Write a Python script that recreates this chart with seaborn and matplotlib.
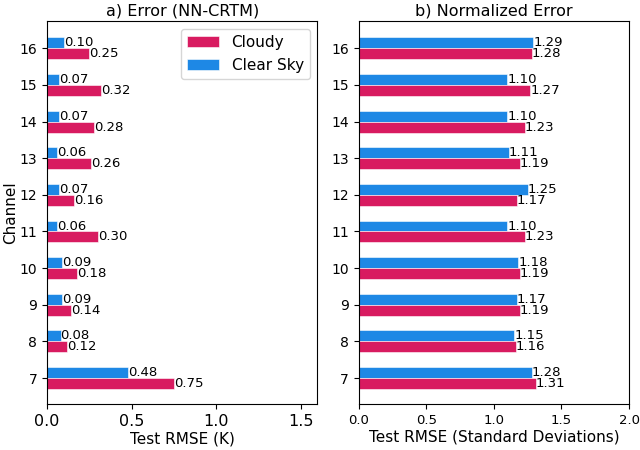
import numpy as np
import pandas as pd
import matplotlib
matplotlib.use("Agg")
import matplotlib.pyplot as plt
import seaborn as sns

channels = [7, 8, 9, 10, 11, 12, 13, 14, 15, 16]
cloudy_rmse = [0.75, 0.12, 0.14, 0.18, 0.30, 0.16, 0.26, 0.28, 0.32, 0.25]
clear_rmse = [0.48, 0.08, 0.09, 0.09, 0.06, 0.07, 0.06, 0.07, 0.07, 0.10]
cloudy_norm = [1.31, 1.16, 1.19, 1.19, 1.23, 1.17, 1.19, 1.23, 1.27, 1.28]
clear_norm = [1.28, 1.15, 1.17, 1.18, 1.10, 1.25, 1.11, 1.10, 1.10, 1.29]

COLORS = {"Cloudy": "#D81B60", "Clear Sky": "#1E88E5"}


def make_frame(cloudy, clear):
    df = pd.DataFrame({"Channel": channels, "Cloudy": cloudy, "Clear Sky": clear})
    return df.melt(id_vars="Channel", var_name="Sky", value_name="RMSE")


def draw(ax, df, title, xlabel, xmax, xtick_size):
    order = sorted(channels, reverse=True)
    sns.barplot(data=df, y="Channel", x="RMSE", hue="Sky", orient="h",
                order=order, hue_order=["Clear Sky", "Cloudy"],
                palette=COLORS, saturation=1, width=0.6,
                edgecolor="white", linewidth=0.4, errorbar=None, ax=ax)
    for cont in ax.containers:
        ax.bar_label(cont, fmt="%.2f", fontsize=9.5, padding=0)
    ax.set_xlim(0, xmax)
    ax.set_ylim(len(channels) - 1 + 0.71, -0.74)
    ax.set_title(title, fontsize=11.5, pad=4)
    ax.set_xlabel(xlabel, fontsize=11, labelpad=2)
    ax.tick_params(axis="x", labelsize=xtick_size)
    ax.tick_params(axis="y", labelsize=10)


fig, (ax1, ax2) = plt.subplots(1, 2, figsize=(6.4, 4.5), dpi=100)

draw(ax1, make_frame(cloudy_rmse, clear_rmse), "a) Error (NN-CRTM)",
     "Test RMSE (K)", 1.6, 11.5)
ax1.set_xticks([0.0, 0.5, 1.0, 1.5])
ax1.set_ylabel("Channel", fontsize=11, labelpad=1)
h, l = ax1.get_legend_handles_labels()
ax1.legend([h[1], h[0]], [l[1], l[0]], loc="upper right", fontsize=11,
           handlelength=2.1)

draw(ax2, make_frame(cloudy_norm, clear_norm), "b) Normalized Error",
     "Test RMSE (Standard Deviations)", 2.0, 9.5)
ax2.set_xticks([0.0, 0.5, 1.0, 1.5, 2.0])
ax2.set_ylabel("")
ax2.get_legend().remove()

plt.subplots_adjust(left=0.0734, right=0.983, top=0.953, bottom=0.102, wspace=0.152)
plt.savefig("out.png", dpi=100)
